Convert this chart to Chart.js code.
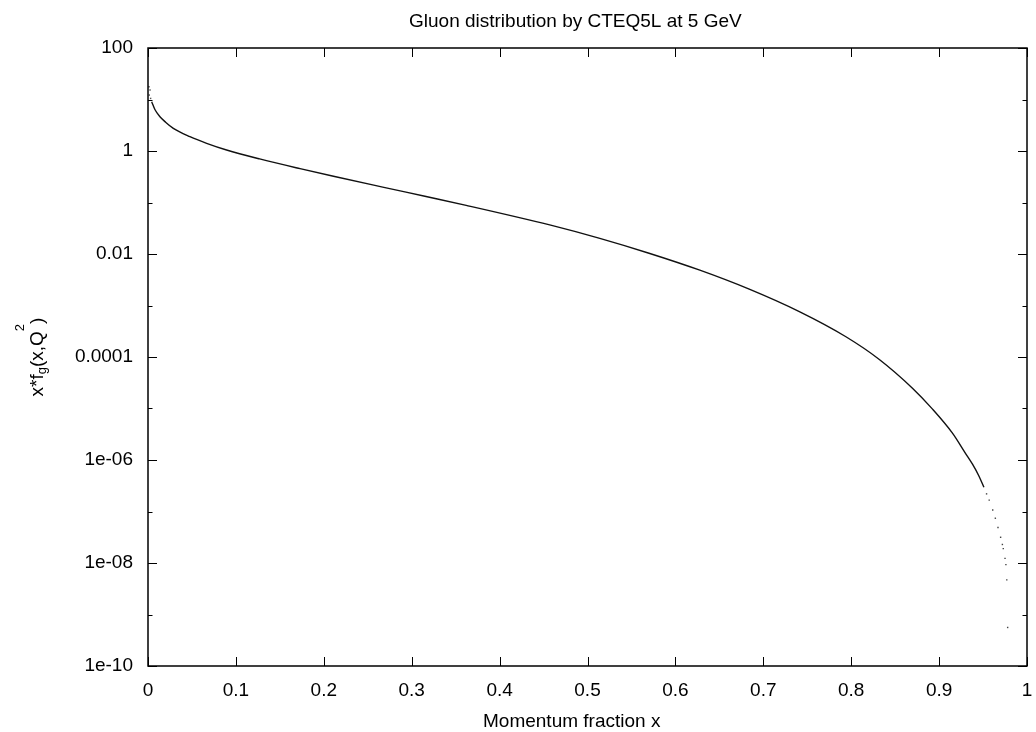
<!DOCTYPE html>
<html><head><meta charset="utf-8">
<script src="https://cdn.jsdelivr.net/npm/chart.js@4/dist/chart.umd.min.js"></script>
<style>html,body{margin:0;padding:0;background:#fff;}#wrap{width:1036px;height:732px;}</style>
</head><body><div id="wrap"><canvas id="c" width="1036" height="732"></canvas></div>
<script>
// Main gluon curve x*f_g(x,Q^2)
const curveX = [0.0042, 0.008, 0.0136, 0.02, 0.0288, 0.0477, 0.0667, 0.0894, 0.127, 0.173, 0.211, 0.267, 0.315, 0.362, 0.457, 0.514, 0.570, 0.627, 0.684, 0.741, 0.794, 0.832, 0.870, 0.892, 0.915, 0.930, 0.938, 0.945, 0.951];
const curveY = [9.06, 6.31, 4.63, 3.63, 2.76, 1.90, 1.41, 1.045, 0.701, 0.454, 0.323, 0.199, 0.132, 0.0881, 0.0367, 0.0201, 0.01035, 0.0049, 0.002075, 7.60e-4, 2.47e-4, 8.95e-5, 2.45e-5, 9.95e-6, 3.36e-6, 1.35e-6, 8.3e-7, 5.0e-7, 2.95e-7];
// Scattered dots at very small x
const headDotX = [0.0011, 0.0015, 0.0023, 0.0030];
const headDotY = [17.7, 12.2, 15.3, 10.5];
// Isolated dots in the high-x tail
const tailDotX = [0.954, 0.957, 0.961, 0.964, 0.967, 0.970, 0.972, 0.973, 0.975, 0.976, 0.977, 0.978];
const tailDotY = [2.2e-7, 1.66e-7, 1.07e-7, 7.4e-8, 4.9e-8, 3.16e-8, 2.29e-8, 1.9e-8, 1.23e-8, 9.3e-9, 4.7e-9, 5.6e-10];

const xTickValues = [0, 0.1, 0.2, 0.3, 0.4, 0.5, 0.6, 0.7, 0.8, 0.9, 1];
const xTickLabels = ['0', '0.1', '0.2', '0.3', '0.4', '0.5', '0.6', '0.7', '0.8', '0.9', '1'];
const yTickValues = ['1e-10','1e-9','1e-8','1e-7','1e-6','1e-5','1e-4','1e-3','1e-2','1e-1','1e0','1e1','1e2'].map(parseFloat);
const yTickLabels = ['1e-10', '', '1e-08', '', '1e-06', '', '0.0001', '', '0.01', '', '1', '', '100'];

const chartTitle = 'Gluon distribution by CTEQ5L at 5 GeV';
const xAxisTitle = 'Momentum fraction x';

const FONT = '"Liberation Sans", Arial, Helvetica, sans-serif';

const pts = (xs, ys) => xs.map((x, i) => ({x: x, y: ys[i]}));

const framePlugin = {
  id: 'frame',
  afterDraw(chart) {
    const ctx = chart.ctx;
    const a = chart.chartArea;
    const xs = chart.scales.x, ys = chart.scales.y;
    ctx.save();
    ctx.strokeStyle = '#000';
    ctx.lineWidth = 1.5;
    ctx.strokeRect(a.left, a.top, a.right - a.left, a.bottom - a.top);
    ctx.lineWidth = 1;
    ctx.beginPath();
    xTickValues.forEach(v => {
      const px = Math.round(xs.getPixelForValue(v)) + 0.5;
      ctx.moveTo(px, a.bottom); ctx.lineTo(px, a.bottom - 9);
      ctx.moveTo(px, a.top); ctx.lineTo(px, a.top + 9);
    });
    yTickValues.forEach((v, i) => {
      const py = Math.round(ys.getPixelForValue(v)) + 0.5;
      const len = yTickLabels[i] ? 9 : 4.5;
      ctx.moveTo(a.left, py); ctx.lineTo(a.left + len, py);
      ctx.moveTo(a.right, py); ctx.lineTo(a.right - len, py);
    });
    ctx.stroke();

    ctx.fillStyle = '#000';
    ctx.font = '19px ' + FONT;
    ctx.textBaseline = 'alphabetic';
    ctx.textAlign = 'left';
    ctx.fillText(chartTitle, 409, 27);
    ctx.fillText(xAxisTitle, 483, 727);

    // y axis title: x*f_g(x,Q^2)
    const segs = [
      {t: 'x*f', size: 19, dy: 0},
      {t: 'g', size: 13, dy: 3},
      {t: '(x,Q', size: 19, dy: 0},
      {t: '2', size: 13, dy: -19},
      {t: ')', size: 19, dy: 0}
    ];
    let total = 0;
    segs.forEach(s => { ctx.font = s.size + 'px ' + FONT; s.w = ctx.measureText(s.t).width; total += s.w; });
    ctx.translate(43, (a.top + a.bottom) / 2);
    ctx.rotate(-Math.PI / 2);
    let cx = -total / 2;
    segs.forEach(s => { ctx.font = s.size + 'px ' + FONT; ctx.fillText(s.t, cx, s.dy); cx += s.w; });
    ctx.restore();
  }
};

new Chart(document.getElementById('c'), {
  type: 'scatter',
  data: {
    datasets: [
      {
        label: 'curve',
        data: pts(curveX, curveY),
        showLine: true,
        borderColor: '#111',
        borderWidth: 1.4,
        pointRadius: 0,
        cubicInterpolationMode: 'monotone',
        fill: false
      },
      {
        label: 'head',
        data: pts(headDotX, headDotY),
        showLine: false,
        pointRadius: 1,
        pointStyle: 'rect',
        backgroundColor: '#555',
        borderWidth: 0
      },
      {
        label: 'tail',
        data: pts(tailDotX, tailDotY),
        showLine: false,
        pointRadius: 1,
        pointStyle: 'rect',
        backgroundColor: '#444',
        borderWidth: 0
      }
    ]
  },
  options: {
    responsive: false,
    animation: false,
    devicePixelRatio: 1,
    layout: {padding: {top: 48, right: 9, left: 0, bottom: 0}},
    plugins: {legend: {display: false}, title: {display: false}, tooltip: {enabled: false}},
    scales: {
      x: {
        type: 'linear', min: 0, max: 1,
        afterBuildTicks: s => { s.ticks = xTickValues.map(v => ({value: v})); },
        afterFit: s => { s.height = 66; s.paddingLeft = 0; s.paddingRight = 0; },
        ticks: {
          callback: (v, i) => xTickLabels[i],
          autoSkip: false, maxRotation: 0, minRotation: 0,
          padding: 13, color: '#000',
          font: {family: FONT, size: 19}
        },
        grid: {display: false, drawTicks: false},
        border: {display: false}
      },
      y: {
        type: 'logarithmic', min: 1e-10, max: 100,
        afterBuildTicks: s => { s.ticks = yTickValues.map(v => ({value: v})); },
        afterFit: s => { s.width = 148; s.paddingTop = 0; s.paddingBottom = 0; },
        ticks: {
          callback: (v, i) => yTickLabels[i],
          autoSkip: false,
          padding: 15, color: '#000',
          font: {family: FONT, size: 19}
        },
        grid: {display: false, drawTicks: false},
        border: {display: false}
      }
    }
  },
  plugins: [framePlugin]
});
</script>
</body></html>
